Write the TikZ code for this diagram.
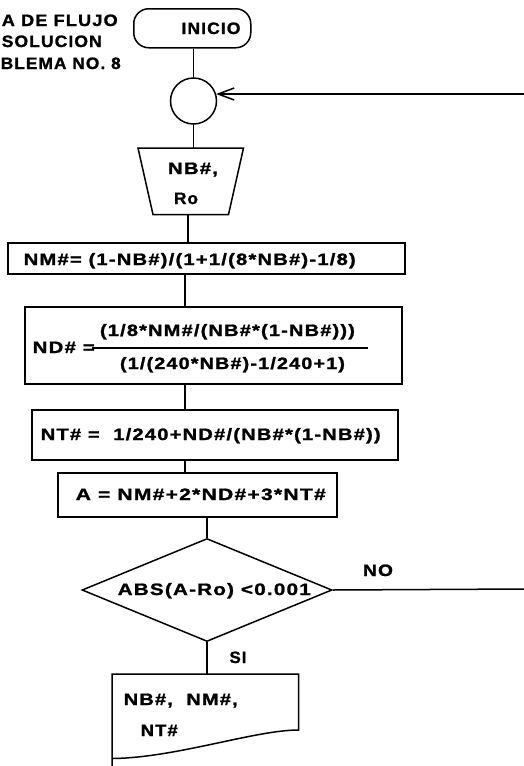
\documentclass[tikz,border=0pt]{standalone}
\usepackage{fontspec}
\setmainfont{Liberation Sans}[LetterSpace=6,FakeBold=1.2]
\usetikzlibrary{shapes.geometric,arrows.meta,calc}
\newcommand\fw[2]{\resizebox{#1pt}{\height}{#2}}
\begin{document}
\begin{tikzpicture}[x=1pt,y=-1pt,line width=1.5pt,
  txt/.style={inner sep=0pt,anchor=base,font=\fontsize{16.5}{19}\selectfont\bfseries},
  txtl/.style={txt,anchor=base west},
  box/.style={draw,inner sep=0pt,anchor=north west},
  area/.style={inner sep=0pt,anchor=north west}]
\useasboundingbox[fill=white] (0,0) rectangle (524,766);
% title
\node[txtl] (t1) at (1,26) {\fw{116}{A DE FLUJO}};
\node[txtl] (t2) at (1,47) {\fw{100}{SOLUCION}};
\node[txtl] (t3) at (0,69) {\fw{120}{BLEMA NO. 8}};
% shapes
\node[box,rounded corners=15pt,minimum width=117pt,minimum height=39pt] (start) at (133,8) {};
\node[txt] (inicio) at (211,34) {\fw{59}{INICIO}};
\node[draw,circle,minimum size=46pt,inner sep=0pt] (circ) at (193.5,101) {};
\node[area,minimum width=104pt,minimum height=65pt] (trap) at (138,148) {};
\draw (trap.north west) -- (trap.north east) -- ($(trap.south east)+(-15,0)$)
  -- ($(trap.south west)+(15,0)$) -- cycle;
\node[txt] (nb) at (193,174) {\fw{50}{NB\#,}};
\node[txt] (ro) at (186,204) {\fw{24}{Ro}};
\node[box,minimum width=397pt,minimum height=31pt] (nm) at (7,242) {};
\node[txtl] (nmt) at (23,265) {\fw{332}{NM\#= (1-NB\#)/(1+1/(8*NB\#)-1/8)}};
\node[box,minimum width=377pt,minimum height=77pt] (nd) at (24,306) {};
\node[txtl] (ndt) at (32,353) {\fw{62}{ND\# =}};
\node[txt] (num) at (227.5,336) {\fw{255}{(1/8*NM\#/(NB\#*(1-NB\#)))}};
\node[txt] (den) at (232.5,369) {\fw{225}{(1/(240*NB\#)-1/240+1)}};
\coordinate (fl) at (92,348);
\coordinate (fr) at (368,348);
\node[box,minimum width=366pt,minimum height=50pt] (nt) at (31,409) {};
\node[txtl] (ntt) at (40,440) {\fw{340}{NT\# =\ \ 1/240+ND\#/(NB\#*(1-NB\#))}};
\node[box,minimum width=279pt,minimum height=44pt] (abox) at (57,472) {};
\node[txtl] (at) at (75,500) {\fw{250}{A = NM\#+2*ND\#+3*NT\#}};
\node[draw,diamond,minimum width=250pt,minimum height=103pt,inner sep=0pt] (dec) at (207,590) {};
\node[txtl] (dect) at (117,595) {\fw{193}{ABS(A-Ro) <0.001}};
\node[txt] (no) at (378,576) {\fw{30}{NO}};
\node[txt] (si) at (238,663) {\fw{17}{SI}};
\node[area,minimum width=185pt,minimum height=92pt] (doc) at (112,674) {};
\node[txtl] (o1) at (123,705) {\fw{114}{NB\#,\ \ NM\#,}};
\node[txtl] (o2) at (140,736) {\fw{37}{NT\#}};
\draw (doc.south west) -- (doc.north west) -- (doc.north east) -- ($(doc.north east)+(0,56)$)
  .. controls (255,730) and (175,758) .. ($(doc.south west)+(0,-9)$);
% fraction line
\draw (fl) -- (fr);
% connectors
\coordinate (spine) at (185,0);
\coordinate (noend) at (524,589);
\coordinate (loopin) at (524,94);
\draw (circ.north |- start.south) -- (circ.north);
\draw (circ.south) -- (circ.south |- trap.north);
\draw ([xshift=-3pt]trap.south) -- ([xshift=-3pt]trap.south |- nm.north);
\draw (spine |- nm.south) -- (spine |- nd.north);
\draw (spine |- nd.south) -- (spine |- nt.north);
\draw (spine |- nt.south) -- (spine |- abox.north);
\draw (dec.north |- abox.south) -- (dec.north);
\draw (dec.south) -- (dec.south |- doc.north);
\draw (dec.east) -- (noend);
\draw[-{Straight Barb[length=16pt,width=12pt]}] (loopin) -- (loopin -| circ.18);
\end{tikzpicture}
\end{document}
